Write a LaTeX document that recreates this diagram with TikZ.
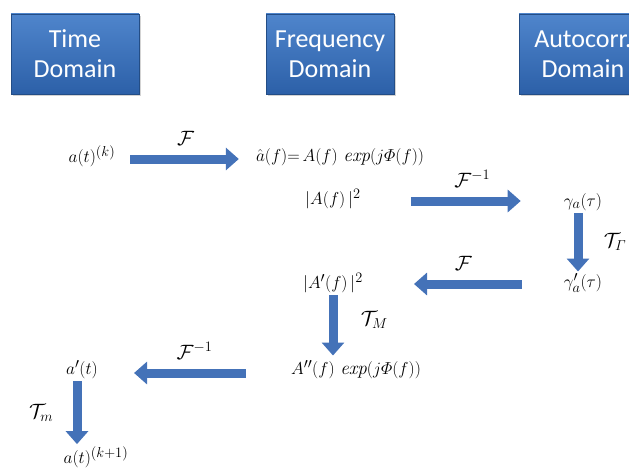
\documentclass[tikz,border=0pt]{standalone}
\usepackage{amsmath}
\usepackage{fontspec}
\setsansfont{Carlito}
\usetikzlibrary{arrows.meta,shadows}

\definecolor{boxtop}{RGB}{79,133,204}
\definecolor{boxbottom}{RGB}{44,96,168}
\definecolor{arrowblue}{RGB}{68,114,184}

\tikzset{
  domainbox/.style={rectangle, minimum width=128pt, minimum height=80pt,
    top color=boxtop, bottom color=boxbottom, draw=boxbottom!80!black,
    drop shadow={shadow xshift=2pt, shadow yshift=-2pt, opacity=0.35},
    text=white, align=center, inner sep=0pt,
    font=\sffamily\fontsize{26}{30}\selectfont},
  term/.style={inner sep=1pt, font=\fontsize{19}{22}\selectfont},
  oplabel/.style={font=\fontsize{20}{24}\selectfont},
  blockarrow/.style={draw=arrowblue, line width=9pt,
    -{Triangle[width=22pt,length=13pt]}},
}

\begin{document}
\begin{tikzpicture}[x=1pt, y=-1pt]
    \useasboundingbox (0,0) rectangle (629,468);
    \clip (0,0) rectangle (629,468);

    % headers
    \node[domainbox] (time) at (75,54) {Time\\Domain};
    \node[domainbox] (freq) at (330,54) {Frequency\\Domain};
    \node[domainbox] (auto) at (583,54) {Autocorr.\\Domain};

    % terms
    \node[term] (a)   at (92,156)  {$a(t)^{(k)}$};
    \node[term] (ahat) at (340,157) {$\hat{a}(f){=}\,A(f)\ \mathit{exp}(j\varPhi(f))$};
    \node[term] (A2)  at (333,199) {$|A(f)\,|^{2}$};
    \node[term] (gam) at (583,202) {$\gamma_a(\tau)$};
    \node[term] (gamp) at (583,283) {$\gamma'_a(\tau)$};
    \node[term] (Ap2) at (333,283) {$|A'(f)\,|^{2}$};
    \node[term] (App) at (356,370) {$A''(f)\ \mathit{exp}(j\varPhi(f))$};
    \node[term] (ap)  at (82,370)  {$a'(t)$};
    \node[term] (anew) at (96,457) {$a(t)^{(k+1)}$};

    % transforms
    \draw[blockarrow, shorten <=14pt, shorten >=16pt] (a.east |- 0,159) -- (ahat.west |- 0,159)
        node[oplabel, midway, above=6pt] {$\mathcal{F}$};
    \draw[blockarrow, shorten <=49pt, shorten >=42pt] (A2.east |- 0,201) -- (gam.west |- 0,201)
        node[oplabel, pos=0.55, above=6pt] {$\mathcal{F}^{-1}$};
    \draw[blockarrow, shorten <=1pt, shorten >=1pt] (gam.south -| 578,0) -- (gamp.north -| 578,0)
        node[oplabel, midway, right=18pt] {$\mathcal{T}_{\varGamma}$};
    \draw[blockarrow, shorten <=41pt, shorten >=50pt] (gamp.west |- 0,284) -- (Ap2.east |- 0,284)
        node[oplabel, pos=0.5, above=6pt] {$\mathcal{F}$};
    \draw[blockarrow, shorten <=1pt, shorten >=4pt] (Ap2.south -| 333,0) -- (App.north -| 333,0)
        node[oplabel, pos=0.4, right=20pt] {$\mathcal{T}_{M}$};
    \draw[blockarrow, shorten <=44pt, shorten >=35pt] (App.west |- 0,373) -- (ap.east |- 0,373)
        node[oplabel, pos=0.5, above=6pt] {$\mathcal{F}^{-1}$};
    \draw[blockarrow, shorten <=1pt, shorten >=1pt] (ap.south -| 77,0) -- (anew.north -| 77,0)
        node[oplabel, midway, left=16pt] {$\mathcal{T}_{m}$};
\end{tikzpicture}
\end{document}
